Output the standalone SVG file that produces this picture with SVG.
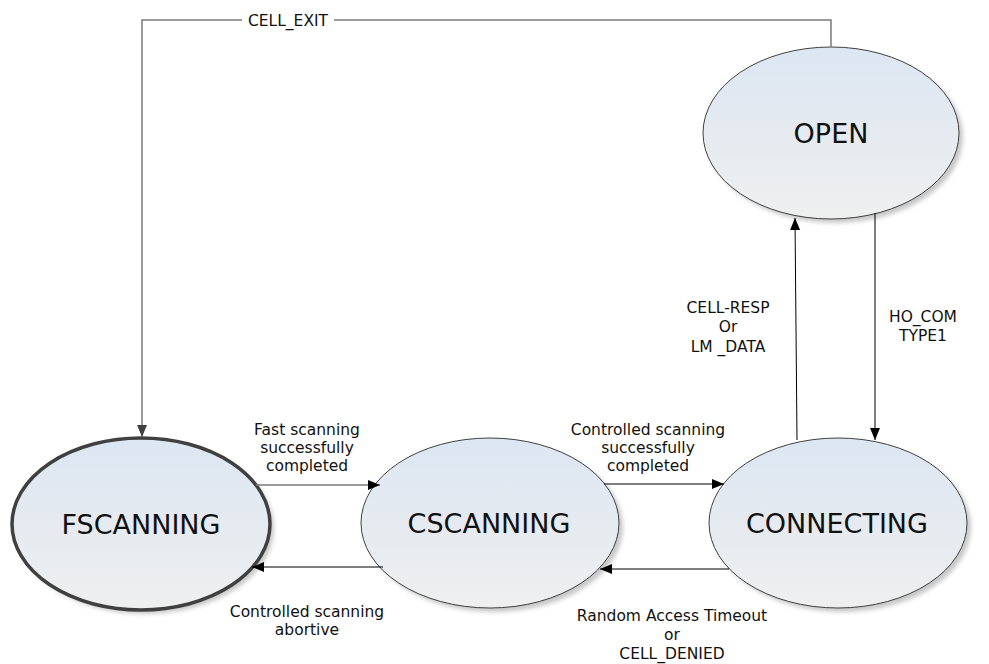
<svg xmlns="http://www.w3.org/2000/svg" width="989" height="664" viewBox="0 0 989 664">
  <defs>
    <linearGradient id="stateFill" x1="0" y1="0" x2="0" y2="1">
      <stop offset="0" stop-color="#dce6f2"/>
      <stop offset="1" stop-color="#efefef"/>
    </linearGradient>
    <filter id="soft" x="-10%" y="-10%" width="120%" height="120%">
      <feGaussianBlur stdDeviation="2"/>
    </filter>
    <marker id="arrow" viewBox="0 0 12 10" refX="12" refY="5" markerWidth="12" markerHeight="10" markerUnits="userSpaceOnUse" orient="auto">
      <path d="M0,0 L12,5 L0,10 Z" fill="#000"/>
    </marker>
    <marker id="arrowGray" viewBox="0 0 12 10" refX="12" refY="5" markerWidth="12" markerHeight="10" markerUnits="userSpaceOnUse" orient="auto">
      <path d="M0,0 L12,5 L0,10 Z" fill="#404040"/>
    </marker>
  </defs>
  <style>
    .shadow { fill: #c8c8c8; filter: url(#soft); }
    .state { fill: url(#stateFill); stroke: #404040; stroke-width: 1; }
    .start { stroke-width: 3.5; }
    .stateLabel { font-family: "DejaVu Sans", Verdana, sans-serif; font-size: 27px; fill: #111; text-anchor: middle; }
    .edge { fill: none; stroke: #000; stroke-width: 1; marker-end: url(#arrow); }
    .edgeGray { fill: none; stroke: #7a7a7a; stroke-width: 1.5; }
    .edgeLabel { font-family: "DejaVu Sans", Verdana, sans-serif; font-size: 15.5px; fill: #111; text-anchor: middle; }
  </style>

  <rect width="989" height="664" fill="#fff"/>

  <!-- states -->
  <g id="open">
    <ellipse class="shadow" cx="835" cy="137" rx="128" ry="86"/>
    <ellipse class="state" cx="831" cy="133" rx="128" ry="86"/>
    <text class="stateLabel" x="831" y="143">OPEN</text>
  </g>

  <g id="fscanning">
    <ellipse class="shadow" cx="145" cy="528" rx="129" ry="86"/>
    <ellipse class="state start" cx="141" cy="524" rx="129" ry="86"/>
    <text class="stateLabel" x="141" y="534">FSCANNING</text>
  </g>

  <g id="cscanning">
    <ellipse class="shadow" cx="494" cy="527" rx="129" ry="85"/>
    <ellipse class="state" cx="490" cy="523" rx="129" ry="85"/>
    <text class="stateLabel" x="489" y="533">CSCANNING</text>
  </g>

  <g id="connecting">
    <ellipse class="shadow" cx="842" cy="527" rx="129" ry="85"/>
    <ellipse class="state" cx="838" cy="523" rx="129" ry="85"/>
    <text class="stateLabel" x="837" y="533">CONNECTING</text>
  </g>

  <!-- transitions -->
  <g id="connectors">
    <!-- OPEN -> FSCANNING -->
    <path class="edgeGray" d="M831,47 V20 H142 V437" marker-end="url(#arrowGray)"/>
    <rect x="242" y="10" width="92" height="20" fill="#fff"/>
    <text class="edgeLabel" x="288" y="26">CELL_EXIT</text>

    <!-- FSCANNING -> CSCANNING -->
    <path class="edgeGray" d="M256,485 H380" marker-end="url(#arrow)"/>
    <text class="edgeLabel" x="307" y="435">Fast scanning</text>
    <text class="edgeLabel" x="307" y="453">successfully</text>
    <text class="edgeLabel" x="307" y="471">completed</text>

    <!-- CSCANNING -> FSCANNING -->
    <path class="edge" d="M383,567 H252" stroke="#444"/>
    <text class="edgeLabel" x="307" y="617">Controlled scanning</text>
    <text class="edgeLabel" x="307" y="635">abortive</text>

    <!-- CSCANNING -> CONNECTING -->
    <path class="edge" d="M604,484 H724"/>
    <text class="edgeLabel" x="648" y="435">Controlled scanning</text>
    <text class="edgeLabel" x="648" y="453">successfully</text>
    <text class="edgeLabel" x="648" y="471">completed</text>

    <!-- CONNECTING -> CSCANNING -->
    <path class="edge" d="M729,569 H600"/>
    <text class="edgeLabel" x="672" y="621">Random Access Timeout</text>
    <text class="edgeLabel" x="672" y="640">or</text>
    <text class="edgeLabel" x="672" y="659">CELL_DENIED</text>

    <!-- CONNECTING -> OPEN -->
    <path class="edge" d="M797,440 L795,218"/>
    <text class="edgeLabel" x="728" y="313">CELL-RESP</text>
    <text class="edgeLabel" x="728" y="332">Or</text>
    <text class="edgeLabel" x="728" y="352">LM _DATA</text>

    <!-- OPEN -> CONNECTING -->
    <path class="edge" d="M875,213 V440"/>
    <text class="edgeLabel" x="923" y="322">HO_COM</text>
    <text class="edgeLabel" x="923" y="341">TYPE1</text>
  </g>
</svg>
